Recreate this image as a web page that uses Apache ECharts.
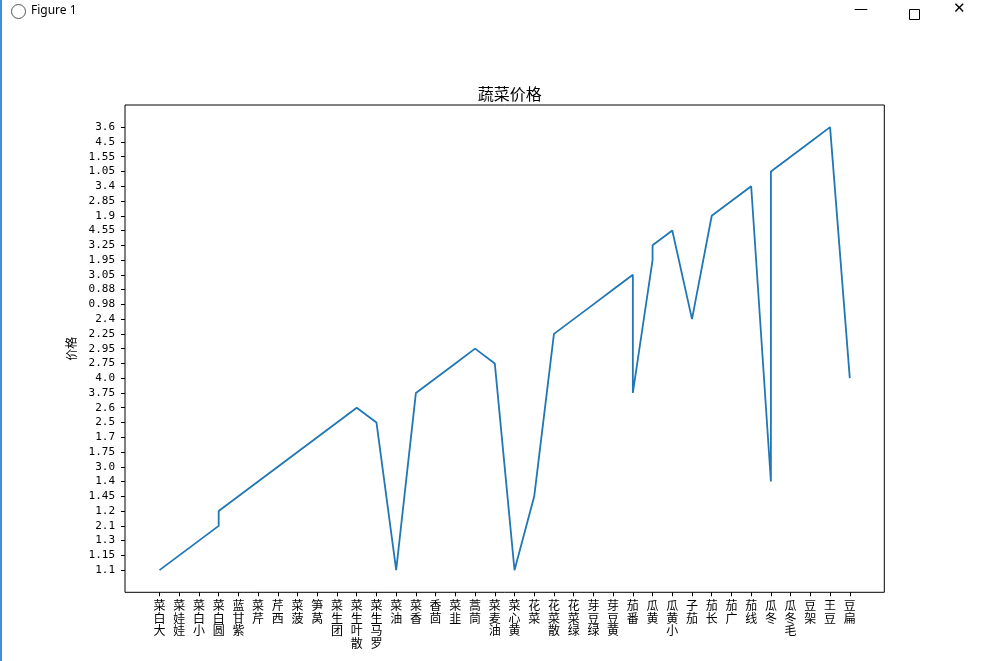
<!DOCTYPE html>
<html>
<head>
<meta charset="utf-8">
<script src="https://cdn.jsdelivr.net/npm/echarts@6/dist/echarts.min.js"></script>
<style>
html,body{margin:0;padding:0;background:#fff;}
#chart{width:981px;height:661px;}
</style>
</head>
<body>
<div id="chart"></div>
<script>
// x categories (vegetable names, in axis order)
const vegetables = ['大白菜','娃娃菜','小白菜','圆白菜','紫甘蓝','芹菜','西芹','菠菜','莴笋','团生菜','散叶生菜','罗马生菜','油菜','香菜','茴香','韭菜','茼蒿','油麦菜','黄心菜','菜花','散菜花','绿菜花','绿豆芽','黄豆芽','番茄','黄瓜','小黄瓜','茄子','长茄','广茄','线茄','冬瓜','毛冬瓜','架豆','豆王','扁豆'];
// y categories (price strings, bottom to top, order of first appearance)
const priceLabels = ['1.1','1.15','1.3','2.1','1.2','1.45','1.4','3.0','1.75','1.7','2.5','2.6','3.75','4.0','2.75','2.95','2.25','2.4','0.98','0.88','3.05','1.95','3.25','4.55','1.9','2.85','3.4','1.05','1.55','4.5','3.6'];
// plotted records (name, price) in drawing order
const recordNames = ['大白菜','娃娃菜','小白菜','圆白菜','圆白菜','紫甘蓝','芹菜','西芹','菠菜','莴笋','团生菜','散叶生菜','罗马生菜','油菜','香菜','茴香','韭菜','茼蒿','油麦菜','黄心菜','菜花','散菜花','绿菜花','绿豆芽','黄豆芽','番茄','番茄','黄瓜','黄瓜','小黄瓜','茄子','长茄','广茄','线茄','冬瓜','冬瓜','毛冬瓜','架豆','豆王','扁豆'];
const recordPrices = ['1.1','1.15','1.3','2.1','1.2','1.45','1.4','3.0','1.75','1.7','2.5','2.6','2.5','1.1','3.75','4.0','2.75','2.95','2.75','1.1','1.45','2.25','2.4','0.98','0.88','3.05','3.75','1.95','3.25','4.55','2.4','1.9','2.85','3.4','1.4','1.05','1.55','4.5','3.6','4.0'];

const seriesData = recordNames.map((n, i) => [n, recordPrices[i]]);

const chart = echarts.init(document.getElementById('chart'));
const FL = 125, FT = 105, FW = 759.3, FH = 487.3;
const nx = vegetables.length, ny = priceLabels.length;
const ux = FW / (nx - 1 + 3.5), uy = FH / (ny - 1 + 3);
const GL = FL + 1.75 * ux - 0.5 * ux, GW = nx * ux;
const GT = FT + 1.5 * uy - 0.5 * uy, GH = ny * uy;
const offLeft = GL - FL, offBottom = (FT + FH) - (GT + GH);

chart.setOption({
  animation: false,
  backgroundColor: '#fff',
  title: {
    text: '蔬菜价格',
    left: FL + FW / 2, top: 81, textAlign: 'center',
    textStyle: {fontFamily: 'Noto Sans CJK SC', fontSize: 16, fontWeight: 'normal', color: '#000'}
  },
  graphic: [
    {type: 'text', left: 31, top: 5, style: {text: 'Figure 1', font: '12px "Noto Sans"', fill: '#000'}},
    {type: 'text', left: 854, top: 2, style: {text: '—', font: '14px "DejaVu Sans"', fill: '#000'}},
    {type: 'rect', left: 907, top: 7, shape: {width: 10, height: 10}, style: {fill: 'none', stroke: '#000', lineWidth: 1}},
    {type: 'text', left: 953, top: 2, style: {text: '✕', font: '15px "DejaVu Sans"', fill: '#000'}},
    {type: 'circle', left: 11, top: 4, shape: {r: 7}, style: {fill: '#fff', stroke: '#555', lineWidth: 1}},
    {type: 'rect', left: 0, top: 0, shape: {width: 2, height: 661}, style: {fill: '#3c8fd8'}}
  ],
  grid: [
    {left: FL, top: FT, width: FW, height: FH, show: true, borderColor: '#000', borderWidth: 1, backgroundColor: 'transparent'},
    {left: GL, top: GT, width: GW, height: GH}
  ],
  xAxis: [
    {gridIndex: 0, type: 'value', show: false, min: 0, max: 1},
    {
      gridIndex: 1, type: 'category', data: vegetables, boundaryGap: true,
      offset: offBottom,
      axisLine: {show: false},
      axisTick: {show: true, alignWithLabel: true, length: 4, lineStyle: {color: '#000', width: 1}},
      axisLabel: {
        interval: 0, margin: 7, color: '#000', fontSize: 12, lineHeight: 12.5,
        fontFamily: 'Noto Sans CJK SC', verticalAlign: 'top',
        formatter: v => v.split('').reverse().join('\n')
      },
      splitLine: {show: false}
    }
  ],
  yAxis: [
    {gridIndex: 0, type: 'value', show: false, min: 0, max: 1},
    {
      gridIndex: 1, type: 'category', data: priceLabels, boundaryGap: true,
      offset: offLeft,
      name: '价格', nameLocation: 'middle', nameRotate: 90, nameGap: 46,
      nameTextStyle: {fontFamily: 'Noto Sans CJK SC', fontSize: 12, color: '#000'},
      axisLine: {show: false},
      axisTick: {show: true, alignWithLabel: true, length: 4, lineStyle: {color: '#000', width: 1}},
      axisLabel: {
        interval: 0, margin: 10, color: '#000', fontSize: 11,
        fontFamily: 'DejaVu Sans Mono'
      },
      splitLine: {show: false}
    }
  ],
  series: [{
    type: 'line', xAxisIndex: 1, yAxisIndex: 1,
    data: seriesData,
    showSymbol: false, symbol: 'none',
    lineStyle: {color: '#1f77b4', width: 1.8},
    z: 3
  }]
});
</script>
</body>
</html>
